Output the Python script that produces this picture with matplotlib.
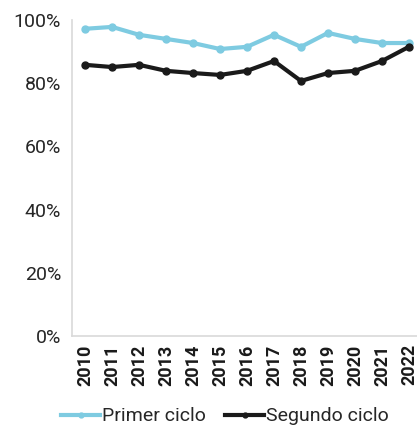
import numpy as np
import matplotlib.pyplot as plt
from matplotlib.ticker import PercentFormatter

years = [str(y) for y in range(2010, 2023)]
primer = [97.2, 97.8, 95.3, 94.0, 92.7, 90.8, 91.5, 95.3, 91.5, 95.9, 94.0, 92.7, 92.7]
segundo = [85.8, 85.1, 85.8, 83.9, 83.2, 82.6, 83.9, 87.0, 80.7, 83.2, 83.9, 87.0, 91.5]

plt.rcParams['font.family'] = ['Roboto', 'DejaVu Sans']

fig = plt.figure(figsize=(4.17, 4.30), dpi=100)
ax = fig.add_axes([0.173, 0.2186, 0.827, 0.735])

x = np.arange(len(years))
ax.plot(x, primer, color='#7ecbe1', lw=3, marker='o', ms=5, label='Primer ciclo')
ax.plot(x, segundo, color='#1a1a1a', lw=3, marker='o', ms=5, label='Segundo ciclo')

ax.set_ylim(0, 100)
ax.set_xlim(-0.48, 12.3)
ax.yaxis.set_major_formatter(PercentFormatter(decimals=0))
ax.set_yticks(range(0, 101, 20))
ax.set_xticks(x)
ax.set_xticklabels(years, rotation=90, fontweight='bold', fontsize=13)
ax.tick_params(axis='y', labelsize=14, length=0, pad=8, colors='#262626')
ax.tick_params(axis='x', length=0, pad=6, colors='#1a1a1a')

for s in ['top', 'right']:
    ax.spines[s].set_visible(False)
for s in ['left', 'bottom']:
    ax.spines[s].set_color('#d9d9d9')
    ax.spines[s].set_linewidth(1.2)

fig.legend(loc='lower center', bbox_to_anchor=(0.54, -0.03), ncol=2, frameon=False,
           fontsize=14, handlelength=2.0, columnspacing=1.0, handletextpad=0.1,
           markerscale=0.7, labelcolor='#262626')

fig.savefig('out.png', dpi=100)
